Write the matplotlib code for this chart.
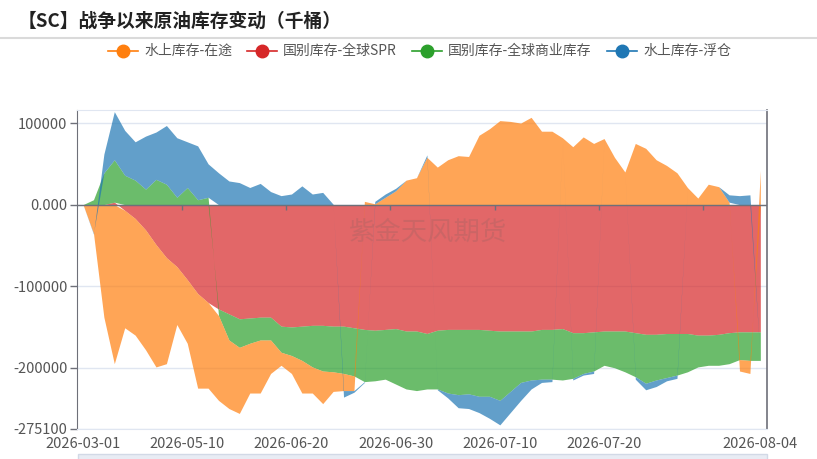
import numpy as np
import matplotlib.pyplot as plt

plt.rcParams['font.family'] = ['Noto Sans CJK SC', 'DejaVu Sans']

# 日期（类目轴）
dates = ['2026-03-01', '2026-03-08', '2026-03-15', '2026-03-22', '2026-03-29',
         '2026-04-05', '2026-04-12', '2026-04-19', '2026-04-26', '2026-05-03',
         '2026-05-10', '2026-05-14', '2026-05-18', '2026-05-22', '2026-05-26',
         '2026-05-30', '2026-06-03', '2026-06-07', '2026-06-11', '2026-06-15',
         '2026-06-20', '2026-06-21', '2026-06-22', '2026-06-23', '2026-06-24',
         '2026-06-25', '2026-06-26', '2026-06-27', '2026-06-28', '2026-06-29',
         '2026-06-30', '2026-07-01', '2026-07-02', '2026-07-03', '2026-07-04',
         '2026-07-05', '2026-07-06', '2026-07-07', '2026-07-08', '2026-07-09',
         '2026-07-10', '2026-07-11', '2026-07-12', '2026-07-13', '2026-07-14',
         '2026-07-15', '2026-07-16', '2026-07-17', '2026-07-18', '2026-07-19',
         '2026-07-20', '2026-07-21', '2026-07-22', '2026-07-23', '2026-07-24',
         '2026-07-25', '2026-07-26', '2026-07-27', '2026-07-28', '2026-07-29',
         '2026-07-30', '2026-07-31', '2026-08-01', '2026-08-02', '2026-08-03',
         '2026-08-04']
label_idx = [0, 10, 20, 30, 40, 50, 65]

# 千桶
spr = [0, 0, 0, 3000, -7000, -17000, -31000, -49000, -65000, -76000,
       -92000, -109000, -120000, -128000, -134000, -140000, -139000, -138000, -138000, -149000,
       -150000, -149000, -148000, -148000, -149000, -149000, -151000, -153000, -154000, -153000,
       -152000, -155000, -155000, -158000, -154000, -153000, -153000, -153000, -153000, -154000,
       -155000, -155000, -155000, -155000, -153000, -153000, -152000, -157000, -157000, -156000,
       -155000, -155000, -155000, -157000, -159000, -159000, -158000, -158000, -158000, -160000,
       -160000, -159000, -157000, -156000, -156000, -156000]
commercial = [0, 6000, 39000, 52000, 36000, 30000, 19000, 31000, 25000, 9000,
              21000, 6000, 9000, -8000, -32000, -35000, -31000, -28000, -28000, -32000,
              -35000, -42000, -51000, -56000, -56000, -58000, -59000, -64000, -62000, -61000,
              -68000, -71000, -73000, -68000, -72000, -78000, -80000, -79000, -82000, -81000,
              -85000, -74000, -63000, -60000, -61000, -61000, -63000, -56000, -50000, -48000,
              -42000, -45000, -50000, -54000, -60000, -56000, -54000, -51000, -47000, -39000,
              -37000, -38000, -38000, -34000, -35000, -35000]
transit = [0, -35000, -138000, -195000, -144000, -143000, -147000, -150000, -130000, -71000,
           -78000, -116000, -105000, -104000, -84000, -81000, -61000, -65000, -41000, -16000,
           -22000, -40000, -32000, -40000, -24000, -21000, -18000, 4000, 1000, 9000,
           17000, 30000, 33000, 58000, 46000, 55000, 60000, 59000, 85000, 93000,
           103000, 102000, 100000, 107000, 90000, 90000, 82000, 71000, 83000, 75000,
           81000, 58000, 40000, 75000, 69000, 55000, 48000, 39000, 21000, 8000,
           25000, 22000, 3000, -14000, -16000, 42000]
floating = [0, -1000, 23000, 59000, 55000, 47000, 65000, 58000, 72000, 73000,
            56000, 66000, 41000, 39000, 29000, 27000, 21000, 26000, 16000, 11000,
            13000, 23000, 13000, 15000, 500, -8000, -2000, -1000, 3000, 4000,
            3000, 0, 0, 3000, -1000, -6000, -16000, -18000, -20000, -27000,
            -30000, -26000, -22000, -11000, -4000, -3000, 0, -2000, -2000, -3000,
            0, 0, 0, -3000, -8000, -8000, -4000, -4000, 0, 0,
            0, 0, 9000, 11000, 12000, -1000]

legend_names = ['水上库存-在途', '国别库存-全球SPR', '国别库存-全球商业库存', '水上库存-浮仓']
legend_colors = ['#ff7f0e', '#d62728', '#2ca02c', '#1f77b4']

stack_order = [spr, commercial, transit, floating]
stack_colors = ['#d62728', '#2ca02c', '#ff7f0e', '#1f77b4']


def stack_samesign(series):
    # 同号堆叠：每个点压在前面最近的同号堆叠结果上
    bases, tops = [], []
    for k, vals in enumerate(series):
        base, top = [], []
        for i, v in enumerate(vals):
            b = 0.0
            for j in range(k - 1, -1, -1):
                p = tops[j][i]
                if (v >= 0 and p > 0) or (v <= 0 and p < 0):
                    b = p
                    break
            base.append(b)
            top.append(b + v)
        bases.append(base)
        tops.append(top)
    return bases, tops


x = np.arange(len(dates))
bases, tops = stack_samesign(stack_order)

fig = plt.figure(figsize=(8.17, 4.59), dpi=100)
ax = fig.add_axes([77 / 817, 30 / 459, 690 / 817, 319 / 459])

for b, t, c in zip(bases, tops, stack_colors):
    ax.fill_between(x, b, t, color=c, alpha=0.7, lw=0, zorder=2)

ymin, ymax = -275100, 116000
ax.set_ylim(ymin, ymax)
ax.set_xlim(-0.58, 65.64)

yt = [100000, 0, -100000, -200000, -275100]
ax.set_yticks(yt, ['100000', '0.000', '-100000', '-200000', '-275100'])
ax.yaxis.grid(True, color='#E0E6F1', lw=1, zorder=0)
ax.set_axisbelow(True)
ax.tick_params(axis='y', length=5, width=1, color='#6E7079', labelsize=10.5,
               labelcolor='#555555', pad=2)
ax.set_xticks(label_idx, [dates[i] for i in label_idx])
ax.tick_params(axis='x', length=0, pad=6, labelsize=10.5, labelcolor='#555555')

for side in ['top', 'bottom']:
    ax.spines[side].set_color('#E0E6F1')
ax.spines['left'].set_color('#6E7079')
ax.spines['right'].set_color('#6E7079')
ax.spines['right'].set_linewidth(1.2)

# 零轴及刻度
ax.axhline(0, color='#6E7079', lw=1, zorder=4)
ax.vlines([9.5, 19.5, 29.5, 39.5, 49.5, 59.5], -6000, 0, color='#6E7079', lw=1, zorder=4)

# 外层：标题、图例、水印
ov = fig.add_axes([0, 0, 1, 1], facecolor='none')
ov.set_xlim(0, 817)
ov.set_ylim(459, 0)
ov.axis('off')

ov.text(18, 21, '【SC】战争以来原油库存变动（千桶）', fontsize=13.5, fontweight='bold',
        color='#222222', va='center', ha='left')
ov.plot([0, 817], [38, 38], color='#DADADA', lw=1.5)

leg_cx = [123, 262, 427, 622]
for cx, name, c in zip(leg_cx, legend_names, legend_colors):
    ov.plot([cx - 15, cx + 15], [51, 51], color=c, lw=1.2)
    ov.plot(cx, 51, 'o', color=c, ms=9)
    ov.text(cx + 21, 51, name, fontsize=10, color='#555555', va='center', ha='left')

ov.text(428, 232, '紫金天风期货', fontsize=19, color='#8a6060', alpha=0.25,
        fontweight='light', ha='center', va='center')

ov.add_patch(plt.Rectangle((78, 454), 689, 8, facecolor='#E8ECF4', edgecolor='#D2D9E6', lw=1))

fig.savefig('out.png', dpi=100)
